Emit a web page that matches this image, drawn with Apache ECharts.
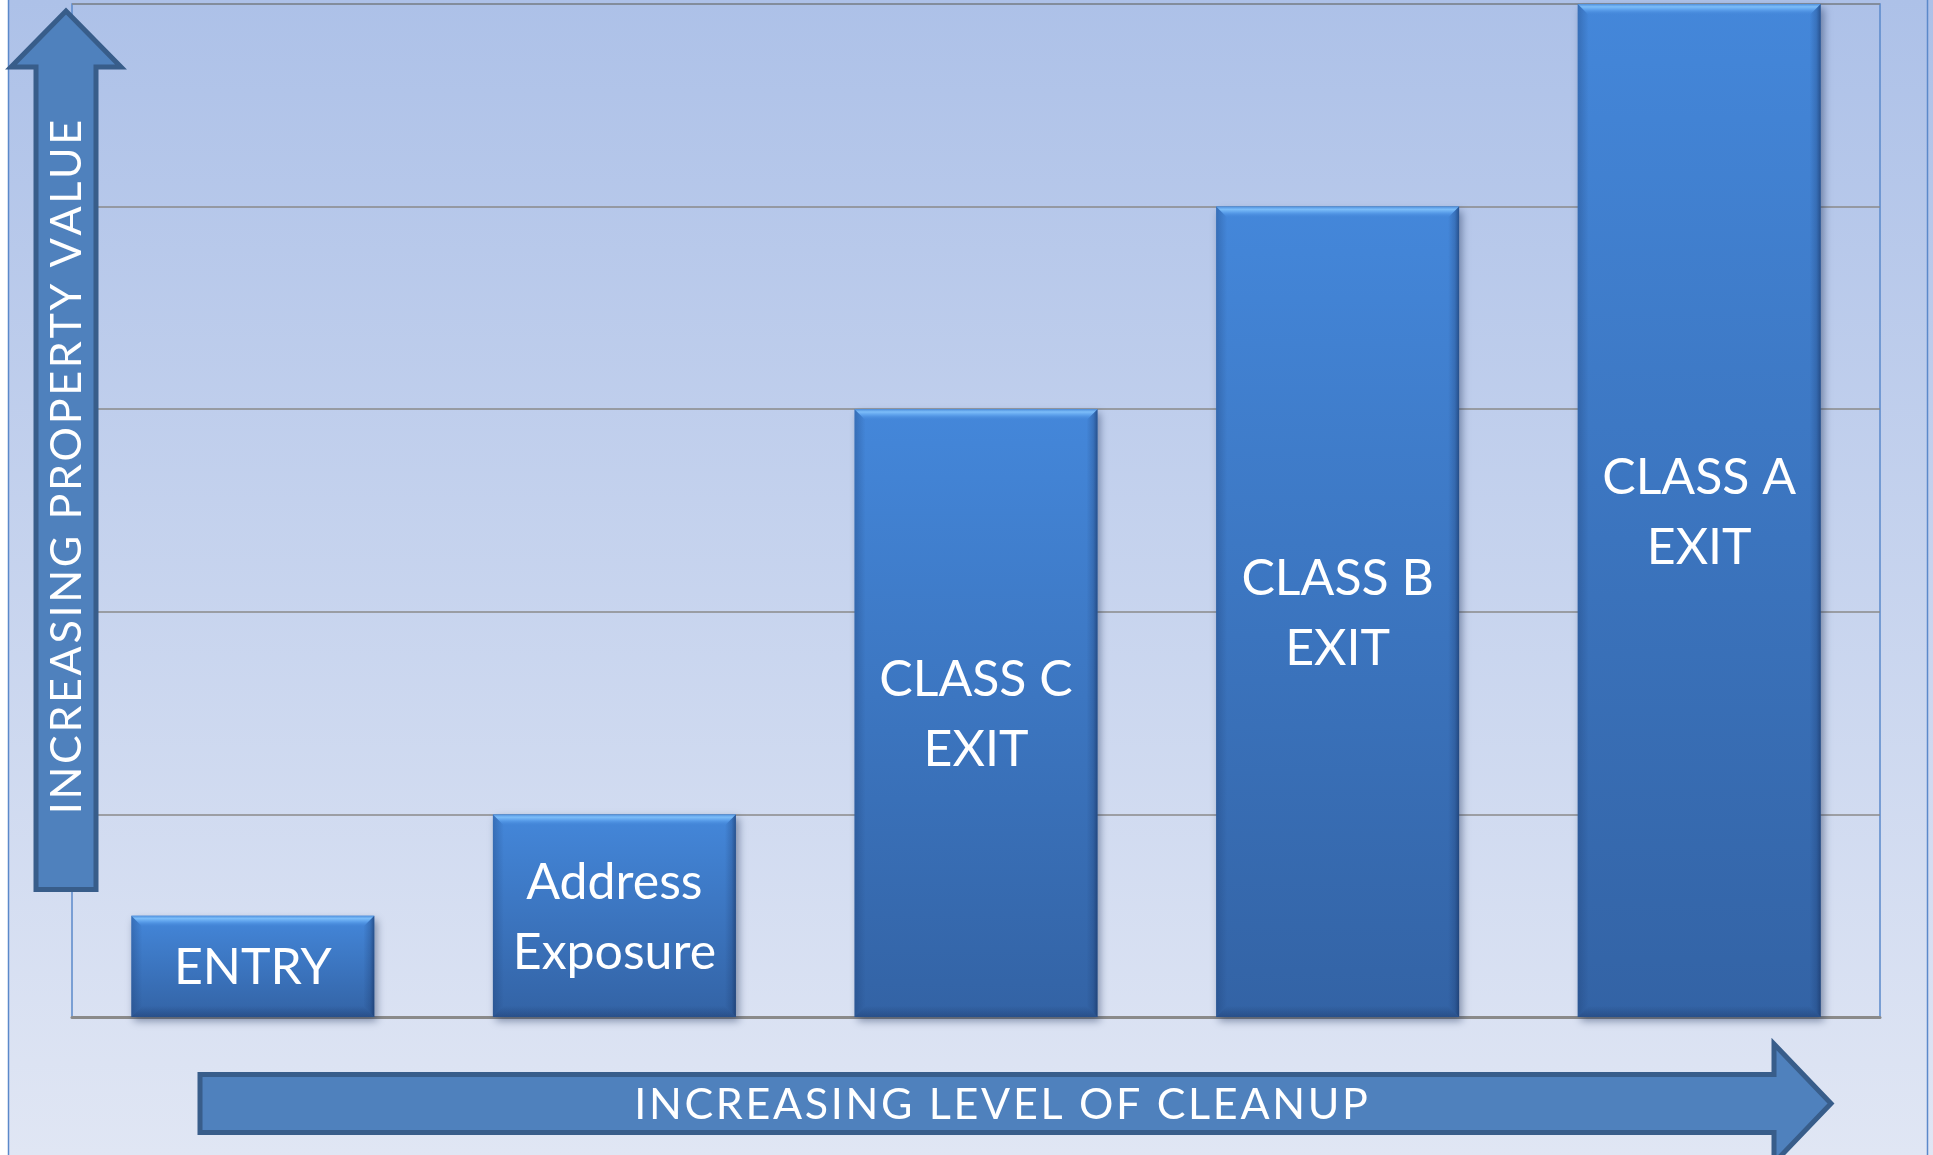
<!DOCTYPE html>
<html>
<head>
<meta charset="utf-8">
<script src="https://cdn.jsdelivr.net/npm/echarts@6/dist/echarts.min.js"></script>
<style>
  html, body { margin: 0; padding: 0; background: #fff; }
  #chart { width: 1933px; height: 1155px; }
</style>
</head>
<body>
<div id="chart"></div>
<script>
// Stage labels along the cleanup axis
const stages = ["ENTRY", "Address\nExposure", "CLASS C\nEXIT", "CLASS B\nEXIT", "CLASS A\nEXIT"];
// Relative property value reached at each stage
const propertyValues = [0.5, 1, 3, 4, 5];
// Value axis gridline steps
const valueTicks = [0, 1, 2, 3, 4, 5];

const yAxisTitle = "INCREASING PROPERTY VALUE";
const xAxisTitle = "INCREASING LEVEL OF CLEANUP";

// zrender has no letter-spacing, so pad with hair spaces
const spaced = (s) => s.split("").join("\u200A");

const chart = echarts.init(document.getElementById("chart"));

function renderBar(params, api) {
  const idx = api.value(0);
  const top = api.coord([idx, api.value(1)]);
  const base = api.coord([idx, 0]);
  const w = api.size([1, 0])[0] * 0.672;
  const x0 = top[0] - w / 2;
  const x1 = top[0] + w / 2;
  const y0 = top[1];
  const y1 = base[1];
  const h = y1 - y0;
  const b = 11; // bevel size

  return {
    type: "group",
    children: [
      {
        type: "rect",
        shape: { x: x0, y: y0, width: w, height: h },
        style: {
          fill: new echarts.graphic.LinearGradient(0, 0, 0, 1, [
            { offset: 0, color: "#4487da" },
            { offset: 1, color: "#3363a5" },
          ]),
          shadowBlur: 8,
          shadowOffsetX: 3,
          shadowOffsetY: 4,
          shadowColor: "rgba(20, 40, 80, 0.45)",
        },
      },
      {
        // top bevel highlight
        type: "polygon",
        shape: { points: [[x0, y0], [x1, y0], [x1 - b, y0 + b], [x0 + b, y0 + b]] },
        style: {
          fill: new echarts.graphic.LinearGradient(0, 0, 0, 1, [
            { offset: 0, color: "#4f90dd" },
            { offset: 0.25, color: "#7cbdf9" },
            { offset: 0.55, color: "#5a9eea" },
            { offset: 1, color: "rgba(68,135,218,0)" },
          ]),
        },
      },
      {
        // right side shade
        type: "polygon",
        shape: { points: [[x1, y0], [x1, y1], [x1 - b, y1 - b], [x1 - b, y0 + b]] },
        style: {
          fill: new echarts.graphic.LinearGradient(0, 0, 1, 0, [
            { offset: 0, color: "rgba(25,55,105,0)" },
            { offset: 0.6, color: "rgba(25,55,105,0.25)" },
            { offset: 1, color: "rgba(20,45,90,0.6)" },
          ]),
        },
      },
      {
        // left side shade
        type: "polygon",
        shape: { points: [[x0, y0], [x0 + b, y0 + b], [x0 + b, y1 - b], [x0, y1]] },
        style: {
          fill: new echarts.graphic.LinearGradient(0, 0, 1, 0, [
            { offset: 0, color: "rgba(25,55,105,0.3)" },
            { offset: 1, color: "rgba(25,55,105,0)" },
          ]),
        },
      },
      {
        // bottom bevel
        type: "polygon",
        shape: { points: [[x0, y1], [x1, y1], [x1 - b, y1 - b], [x0 + b, y1 - b]] },
        style: {
          fill: new echarts.graphic.LinearGradient(0, 0, 0, 1, [
            { offset: 0, color: "rgba(30,60,110,0)" },
            { offset: 1, color: "rgba(30,60,110,0.5)" },
          ]),
        },
      },
      {
        type: "text",
        x: top[0],
        y: (y0 + y1) / 2 + 2,
        style: {
          text: stages[idx],
          fill: "#ffffff",
          fontFamily: "Lato",
          fontSize: 50,
          lineHeight: 70,
          align: "center",
          verticalAlign: "middle",
        },
      },
    ],
  };
}

const option = {
  animation: false,
  backgroundColor: new echarts.graphic.LinearGradient(0, 0, 0, 1, [
    { offset: 0, color: "#adc1e8" },
    { offset: 1, color: "#e0e6f4" },
  ]),
  grid: {
    left: 72,
    right: 53,
    top: 4,
    bottom: 138,
    show: true,
    borderColor: "#5b89ca",
    borderWidth: 1.5,
  },
  xAxis: {
    type: "category",
    data: stages,
    axisLine: { lineStyle: { color: "#8a8a8a", width: 3 } },
    axisTick: { show: false },
    axisLabel: { show: false },
  },
  yAxis: {
    type: "value",
    min: valueTicks[0],
    max: valueTicks[valueTicks.length - 1],
    interval: valueTicks[1] - valueTicks[0],
    axisLine: { show: false },
    axisTick: { show: false },
    axisLabel: { show: false },
    splitLine: { lineStyle: { color: "#8a8a8a", width: 1.5 } },
  },
  series: [
    {
      type: "custom",
      renderItem: renderBar,
      encode: { x: 0, y: 1 },
      data: propertyValues.map((v, i) => [i, v]),
      z: 5,
    },
  ],
  graphic: [
    { type: "rect", z: 20, silent: true, shape: { x: 0, y: 0, width: 8, height: 1155 }, style: { fill: "#ffffff" } },
    { type: "line", z: 20, silent: true, shape: { x1: 8.5, y1: 0, x2: 8.5, y2: 1155 }, style: { stroke: "#5b89ca", lineWidth: 1.5 } },
    { type: "line", z: 20, silent: true, shape: { x1: 1927.5, y1: 0, x2: 1927.5, y2: 1155 }, style: { stroke: "#5b89ca", lineWidth: 1.5 } },
    {
      // up arrow
      type: "polygon",
      z: 20,
      silent: true,
      shape: {
        points: [[36, 889.5], [36, 67], [11, 67], [66, 11], [121, 67], [96, 67], [96, 889.5]],
      },
      style: { fill: "#4f81bd", stroke: "#385d8a", lineWidth: 5, lineJoin: "miter" },
    },
    {
      type: "text",
      z: 21,
      silent: true,
      x: 67.5,
      y: 467,
      rotation: Math.PI / 2,
      style: {
        text: spaced(yAxisTitle),
        fill: "#ffffff",
        fontFamily: "Lato",
        fontSize: 43,
        align: "center",
        verticalAlign: "middle",
      },
    },
    {
      // right arrow
      type: "polygon",
      z: 20,
      silent: true,
      shape: {
        points: [[200, 1074.5], [1774, 1074.5], [1774, 1044], [1831, 1103.5], [1774, 1163], [1774, 1132.5], [200, 1132.5]],
      },
      style: { fill: "#4f81bd", stroke: "#385d8a", lineWidth: 5, lineJoin: "miter" },
    },
    {
      type: "text",
      z: 21,
      silent: true,
      x: 1001,
      y: 1105,
      style: {
        text: spaced(xAxisTitle),
        fill: "#ffffff",
        fontFamily: "Lato",
        fontSize: 43,
        align: "center",
        verticalAlign: "middle",
      },
    },
  ],
};

chart.setOption(option);
</script>
</body>
</html>
